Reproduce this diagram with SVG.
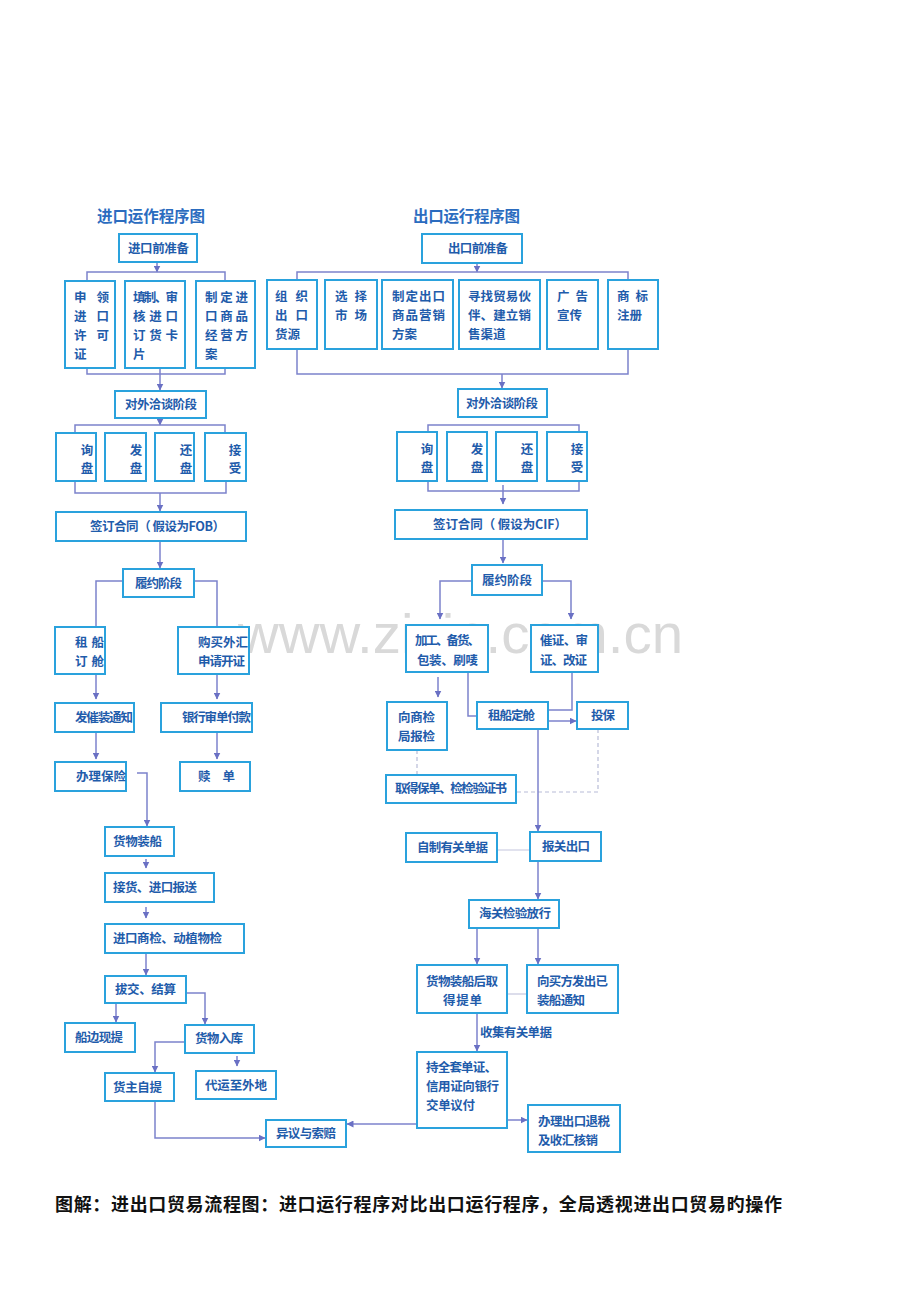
<svg xmlns="http://www.w3.org/2000/svg" width="920" height="1302" viewBox="0 0 920 1302">
<style>
.b{fill:#fff;stroke:#2aa2dd;stroke-width:2}
.t{font-family:"Noto Sans CJK SC","Noto Sans CJK TC",sans-serif;font-size:12.5px;font-weight:bold;fill:#1f5cab}
.m{text-anchor:middle}
.h{font-family:"Noto Sans CJK SC",sans-serif;font-size:15.5px;font-weight:bold;fill:#2b6cbf}
.c{fill:none;stroke:#7c82cc;stroke-width:1.5}
.a{marker-end:url(#ar)}
.d{fill:none;stroke:#b8bcd8;stroke-width:1.2;stroke-dasharray:4 3}
.f{fill:none;stroke:#c4c6de;stroke-width:1.2}
.cap{font-family:"Noto Sans CJK SC",sans-serif;font-size:18px;font-weight:bold;fill:#111}
.wm{font-family:"Liberation Sans",Arial,sans-serif;font-size:56px;fill:#d9d9d9}
</style>
<defs>
<marker id="ar" markerWidth="7" markerHeight="7" refX="6.5" refY="3.5" orient="auto" markerUnits="userSpaceOnUse">
<path d="M0,0 L7,3.5 L0,7 z" fill="#6a70c4"/>
</marker>
</defs>
<rect width="920" height="1302" fill="#fff"/>
<text class="wm" x="238" y="653" textLength="445" lengthAdjust="spacingAndGlyphs">www.zixin.com.cn</text>

<text class="h" x="97" y="222" textLength="108">进口运作程序图</text>
<text class="h" x="413" y="222" textLength="107">出口运行程序图</text>

<g id="connectors">
<!-- left -->
<path class="c a" d="M157,262 V272"/>
<path class="c" d="M87,281 V272 H225 V281"/>
<path class="c" d="M87,368 V374 H225 V368"/>
<path class="c a" d="M160,368 V390"/>
<path class="c a" d="M160,418 V425"/>
<path class="c" d="M75,433 V425 H225 V433"/>
<path class="c" d="M75,481 V493 H226 V481"/>
<path class="c a" d="M160,493 V511"/>
<path class="c a" d="M160,541 V568"/>
<path class="c" d="M123,581 H96 V627"/>
<path class="c" d="M194,581 H217 V627"/>
<path class="c a" d="M96,674 V699"/>
<path class="c a" d="M217,674 V699"/>
<path class="c a" d="M96,732 V759"/>
<path class="c a" d="M217,732 V759"/>
<path class="c a" d="M137,773 H147 V826"/>
<path class="c a" d="M146,859 V868"/>
<path class="c a" d="M146,907 V918"/>
<path class="c a" d="M146,953 V975"/>
<path class="c a" d="M116,1003 V1022"/>
<path class="c a" d="M186,993 H205 V1024"/>
<path class="c a" d="M185,1042 H155 V1072"/>
<path class="c a" d="M237,1056 V1066"/>
<path class="c a" d="M155,1101 V1138 H265"/>
<!-- right -->
<path class="c a" d="M477,263 V272"/>
<path class="c" d="M297,280 V272 H628 V280"/>
<path class="c" d="M297,349 V374 H628 V349"/>
<path class="c a" d="M502,374 V388"/>
<path class="c" d="M428,432 V425 H579 V432"/>
<path class="c" d="M428,481 V491 H579 V481"/>
<path class="c a" d="M503,485 V504"/>
<path class="c a" d="M503,539 V563"/>
<path class="c a" d="M472,581 H440 V619"/>
<path class="c a" d="M542,581 H571 V619"/>
<path class="c a" d="M438,677 V697"/>
<path class="c" d="M468,672 V716 H477"/>
<path class="c" d="M572,672 V710 H548"/>
<path class="c a" d="M548,721 H576"/>
<path class="d" d="M598,729 V792 H516"/>
<path class="d" d="M417,750 V775"/>
<path class="c a" d="M538,729 V831"/>
<path class="f" d="M497,850 H530"/>
<path class="c a" d="M538,861 V899"/>
<path class="c a" d="M477,928 V964"/>
<path class="c a" d="M538,928 V964"/>
<path class="f" d="M507,994 H527"/>
<path class="c a" d="M477,1013 V1051"/>
<path class="c a" d="M507,1120 H527"/>
<path class="c a" d="M417,1124 H347"/>
</g>

<!-- LEFT NODES -->
<g id="imp_prep"><rect class="b" x="119" y="234" width="78" height="28"/><text class="t" x="128" y="253" textLength="61">进口前准备</text></g>
<g id="imp_license"><rect class="b" x="65" y="281" width="50" height="87"/>
<text class="t" x="74" y="302" textLength="35">申领</text><text class="t" x="74" y="321" textLength="35">进口</text><text class="t" x="74" y="340" textLength="35">许可</text><text class="t" x="74" y="359">证</text></g>
<g id="imp_card"><rect class="b" x="125" y="281" width="60" height="87"/>
<text class="t" x="133" y="302" textLength="45">填制、审</text><text class="t" x="133" y="321" textLength="45">核进口</text><text class="t" x="133" y="340" textLength="45">订货卡</text><text class="t" x="133" y="359">片</text></g>
<g id="imp_plan"><rect class="b" x="196" y="281" width="59" height="87"/>
<text class="t" x="205" y="302" textLength="43">制定进</text><text class="t" x="205" y="321" textLength="43">口商品</text><text class="t" x="205" y="340" textLength="43">经营方</text><text class="t" x="205" y="359">案</text></g>
<g id="imp_neg"><rect class="b" x="115" y="391" width="91" height="27"/><text class="t" x="125" y="409" textLength="72">对外洽谈阶段</text></g>
<g id="imp_inquiry"><rect class="b" x="56" y="433" width="40" height="48"/><text class="t m" x="87" y="455">询</text><text class="t m" x="87" y="473">盘</text></g>
<g id="imp_offer"><rect class="b" x="105" y="433" width="41" height="48"/><text class="t m" x="136" y="455">发</text><text class="t m" x="136" y="473">盘</text></g>
<g id="imp_counter"><rect class="b" x="155" y="433" width="39" height="48"/><text class="t m" x="186" y="455">还</text><text class="t m" x="186" y="473">盘</text></g>
<g id="imp_accept"><rect class="b" x="205" y="433" width="41" height="48"/><text class="t m" x="235" y="455">接</text><text class="t m" x="235" y="473">受</text></g>
<g id="imp_contract"><rect class="b" x="56" y="512" width="190" height="29"/><text class="t" x="90" y="531" textLength="135">签订合同（ 假设为FOB）</text></g>
<g id="imp_perform"><rect class="b" x="123" y="569" width="71" height="28"/><text class="t" x="135" y="588" textLength="47">履约阶段</text></g>
<g id="imp_ship"><rect class="b" x="55" y="627" width="50" height="47"/><text class="t" x="75" y="647" textLength="29">租船</text><text class="t" x="75" y="666" textLength="29">订舱</text></g>
<g id="imp_fx"><rect class="b" x="178" y="627" width="71" height="47"/><text class="t" x="198" y="647" textLength="50">购买外汇</text><text class="t" x="198" y="666" textLength="47">申请开证</text></g>
<g id="imp_notice"><rect class="b" x="55" y="703" width="79" height="29"/><text class="t" x="75" y="722" textLength="58">发催装通知</text></g>
<g id="imp_bank"><rect class="b" x="161" y="703" width="91" height="29"/><text class="t" x="182" y="722" textLength="69">银行审单付款</text></g>
<g id="imp_insure"><rect class="b" x="55" y="762" width="71" height="29"/><text class="t" x="76" y="781" textLength="50">办理保险</text></g>
<g id="imp_redeem"><rect class="b" x="180" y="762" width="70" height="29"/><text class="t" x="198" y="781" textLength="37">赎单</text></g>
<g id="imp_load"><rect class="b" x="105" y="827" width="69" height="29"/><text class="t" x="113" y="846" textLength="49">货物装船</text></g>
<g id="imp_receive"><rect class="b" x="105" y="873" width="109" height="29"/><text class="t" x="113" y="892" textLength="84">接货、进口报送</text></g>
<g id="imp_inspect"><rect class="b" x="105" y="924" width="139" height="29"/><text class="t" x="113" y="943" textLength="109">进口商检、动植物检</text></g>
<g id="imp_settle"><rect class="b" x="105" y="976" width="81" height="27"/><text class="t" x="115" y="994" textLength="61">拔交、结算</text></g>
<g id="imp_quay"><rect class="b" x="65" y="1023" width="70" height="29"/><text class="t" x="75" y="1042" textLength="48">船边现提</text></g>
<g id="imp_store"><rect class="b" x="185" y="1025" width="69" height="28"/><text class="t" x="195" y="1043" textLength="48">货物入库</text></g>
<g id="imp_self"><rect class="b" x="105" y="1073" width="69" height="28"/><text class="t" x="113" y="1092" textLength="49">货主自提</text></g>
<g id="imp_forward"><rect class="b" x="196" y="1071" width="80" height="28"/><text class="t" x="205" y="1090" textLength="62">代运至外地</text></g>
<g id="claim"><rect class="b" x="266" y="1120" width="80" height="27"/><text class="t" x="276" y="1138" textLength="60">异议与索赔</text></g>

<!-- RIGHT NODES -->
<g id="exp_prep"><rect class="b" x="422" y="234" width="100" height="29"/><text class="t" x="448" y="253" textLength="60">出口前准备</text></g>
<g id="exp_source"><rect class="b" x="267" y="280" width="50" height="69"/><text class="t" x="275" y="301" textLength="33">组织</text><text class="t" x="275" y="320" textLength="33">出口</text><text class="t" x="275" y="339">货源</text></g>
<g id="exp_market"><rect class="b" x="325" y="280" width="52" height="69"/><text class="t" x="335" y="301" textLength="32">选择</text><text class="t" x="335" y="320" textLength="32">市场</text></g>
<g id="exp_plan"><rect class="b" x="382" y="280" width="71" height="69"/><text class="t" x="392" y="301" textLength="53">制定出口</text><text class="t" x="392" y="320" textLength="53">商品营销</text><text class="t" x="392" y="339">方案</text></g>
<g id="exp_partner"><rect class="b" x="459" y="280" width="81" height="69"/><text class="t" x="468" y="301" textLength="63">寻找贸易伙</text><text class="t" x="468" y="320" textLength="63">伴、建立销</text><text class="t" x="468" y="339">售渠道</text></g>
<g id="exp_ad"><rect class="b" x="547" y="280" width="51" height="69"/><text class="t" x="557" y="301" textLength="31">广告</text><text class="t" x="557" y="320">宣传</text></g>
<g id="exp_tm"><rect class="b" x="608" y="280" width="50" height="69"/><text class="t" x="617" y="301" textLength="31">商标</text><text class="t" x="617" y="320">注册</text></g>
<g id="exp_neg"><rect class="b" x="458" y="389" width="89" height="28"/><text class="t" x="466" y="408" textLength="72">对外洽谈阶段</text></g>
<g id="exp_inquiry"><rect class="b" x="397" y="432" width="40" height="49"/><text class="t m" x="427" y="454">询</text><text class="t m" x="427" y="472">盘</text></g>
<g id="exp_offer"><rect class="b" x="447" y="432" width="40" height="49"/><text class="t m" x="477" y="454">发</text><text class="t m" x="477" y="472">盘</text></g>
<g id="exp_counter"><rect class="b" x="496" y="432" width="41" height="49"/><text class="t m" x="527" y="454">还</text><text class="t m" x="527" y="472">盘</text></g>
<g id="exp_accept"><rect class="b" x="547" y="432" width="40" height="49"/><text class="t m" x="577" y="454">接</text><text class="t m" x="577" y="472">受</text></g>
<g id="exp_contract"><rect class="b" x="395" y="510" width="192" height="29"/><text class="t" x="433" y="529" textLength="134">签订合同（ 假设为CIF）</text></g>
<g id="exp_perform"><rect class="b" x="472" y="565" width="70" height="30"/><text class="t" x="482" y="585" textLength="50">履约阶段</text></g>
<g id="exp_goods"><rect class="b" x="406" y="625" width="82" height="47"/><text class="t" x="415" y="645" textLength="65">加工、备货、</text><text class="t" x="417" y="665" textLength="61">包装、刷唛</text></g>
<g id="exp_lc"><rect class="b" x="531" y="625" width="67" height="47"/><text class="t" x="540" y="645" textLength="48">催证、审</text><text class="t" x="540" y="665" textLength="47">证、改证</text></g>
<g id="exp_cheq"><rect class="b" x="387" y="702" width="60" height="48"/><text class="t" x="398" y="722" textLength="37">向商检</text><text class="t" x="398" y="741" textLength="37">局报检</text></g>
<g id="exp_ship"><rect class="b" x="477" y="702" width="71" height="27"/><text class="t" x="488" y="720" textLength="47">租船定舱</text></g>
<g id="exp_insure"><rect class="b" x="577" y="702" width="51" height="27"/><text class="t" x="591" y="720" textLength="24">投保</text></g>
<g id="exp_policy"><rect class="b" x="386" y="775" width="130" height="28"/><text class="t" x="395" y="793" textLength="112">取得保单、检检验证书</text></g>
<g id="exp_docs"><rect class="b" x="406" y="833" width="91" height="29"/><text class="t" x="417" y="852" textLength="71">自制有关单据</text></g>
<g id="exp_customs"><rect class="b" x="530" y="832" width="71" height="29"/><text class="t" x="542" y="851" textLength="48">报关出口</text></g>
<g id="exp_release"><rect class="b" x="469" y="900" width="90" height="28"/><text class="t" x="479" y="918" textLength="72">海关检验放行</text></g>
<g id="exp_bl"><rect class="b" x="417" y="965" width="90" height="48"/><text class="t" x="426" y="986" textLength="72">货物装船后取</text><text class="t" x="443" y="1005" textLength="39">得提单</text></g>
<g id="exp_advice"><rect class="b" x="527" y="965" width="91" height="48"/><text class="t" x="537" y="986" textLength="71">向买方发出已</text><text class="t" x="537" y="1005" textLength="48">装船通知</text></g>
<text class="t" x="480" y="1037" textLength="72">收集有关单据</text>
<g id="exp_negotiate"><rect class="b" x="417" y="1052" width="90" height="76"/><text class="t" x="426" y="1072" textLength="71">持全套单证、</text><text class="t" x="426" y="1091" textLength="73">信用证向银行</text><text class="t" x="426" y="1110" textLength="49">交单议付</text></g>
<g id="exp_tax"><rect class="b" x="528" y="1105" width="92" height="47"/><text class="t" x="538" y="1126" textLength="72">办理出口退税</text><text class="t" x="538" y="1145" textLength="60">及收汇核销</text></g>

<text class="cap" x="55" y="1211" textLength="727">图解：进出口贸易流程图：进口运行程序对比出口运行程序，全局透视进出口贸易旳操作</text>
</svg>
